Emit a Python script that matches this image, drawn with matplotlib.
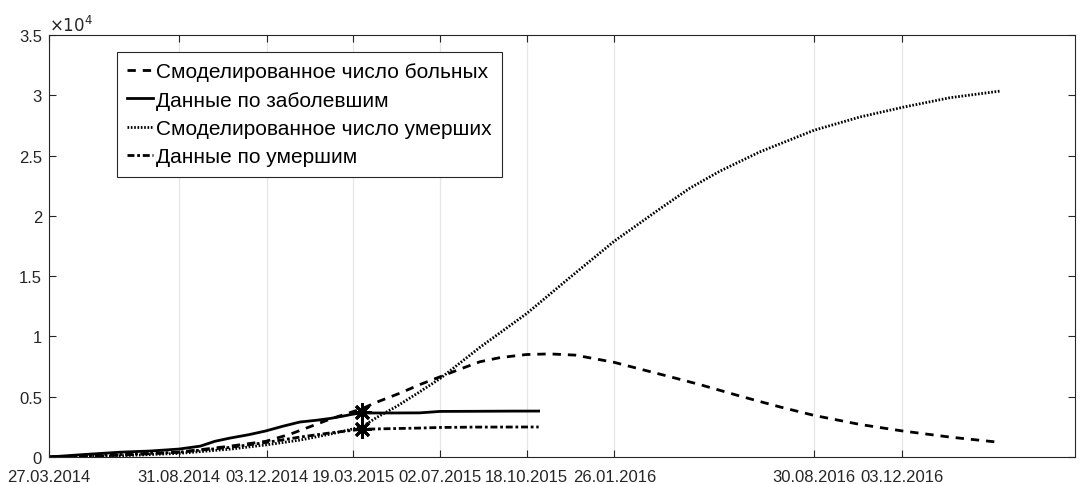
import matplotlib
matplotlib.use("Agg")
import matplotlib.pyplot as plt

plt.rcParams['font.family'] = ['Liberation Sans', 'DejaVu Sans']

# Time axis: days counted from 27.03.2014
tick_pos = [0, 153, 256, 358, 460, 562, 665, 900, 1004]
tick_labels = ["27.03.2014", "31.08.2014", "03.12.2014", "19.03.2015", "02.07.2015",
               "18.10.2015", "26.01.2016", "30.08.2016", "03.12.2016"]
x_max = 1207

# Reported cases
cases_t = [0, 40, 84, 120, 153, 178, 195, 213, 235, 255, 275, 295, 315, 331, 345, 358, 368,
           400, 436, 460, 500, 540, 576]
cases_v = [0, 200, 400, 500, 660, 900, 1300, 1570, 1850, 2160, 2550, 2900, 3050, 3200, 3380,
           3560, 3650, 3650, 3660, 3780, 3790, 3805, 3810]

# Reported deaths
deaths_t = [0, 84, 153, 213, 255, 295, 331, 368, 400, 436, 460, 500, 576]
deaths_v = [0, 200, 400, 800, 1200, 1650, 2000, 2300, 2350, 2400, 2450, 2480, 2490]

# Modelled number of infected
model_cases_t = [0, 84, 153, 213, 255, 284, 331, 368, 386, 413, 436, 460, 484, 507, 531,
                 562, 589, 619, 642, 665, 695, 731, 766, 813, 860, 900, 954, 1004, 1060, 1115]
model_cases_v = [0, 150, 400, 900, 1300, 1900, 3150, 4000, 4560, 5300, 6000, 6650, 7300,
                 7900, 8250, 8500, 8550, 8450, 8150, 7850, 7300, 6650, 6000, 5050, 4150,
                 3450, 2700, 2160, 1650, 1240]

# Modelled number of deaths
model_deaths_t = [0, 84, 153, 213, 255, 295, 331, 368, 386, 409, 436, 460, 507, 562, 613,
                  665, 719, 754, 789, 836, 900, 954, 1004, 1060, 1119]
model_deaths_v = [0, 100, 300, 650, 1000, 1400, 1900, 2500, 3300, 4200, 5400, 6500, 9100,
                  11900, 14900, 17900, 20600, 22300, 23700, 25300, 27100, 28200, 29000,
                  29800, 30350]

# Last reported point
mark_t = [368, 368]
mark_v = [3700, 2300]

fig = plt.figure(figsize=(10.85, 4.85), dpi=100)
ax = fig.add_axes([49 / 1085, 27 / 485, 1026 / 1085, 422 / 485])

lw = 2.0
ax.plot(model_cases_t, model_cases_v, color='black', lw=lw, linestyle=(0, (3, 2.5)),
        label='Смоделированное число больных')
ax.plot(cases_t, cases_v, color='black', lw=lw, linestyle='-',
        label='Данные по заболевшим')
ax.plot(model_deaths_t, model_deaths_v, color='black', lw=2.0, linestyle=(0, (0.6, 0.6)),
        label='Смоделированное число умерших')
ax.plot(deaths_t, deaths_v, color='black', lw=lw, linestyle=(0, (2.5, 1, 1, 1)),
        label='Данные по умершим')
ax.plot(mark_t, mark_v, linestyle='none', marker=(8, 2, 0), markersize=13, color='black',
        markeredgewidth=2)

ax.set_xlim(0, x_max)
ax.set_ylim(0, 35000)
ax.set_xticks(tick_pos)
ax.set_xticklabels(tick_labels)
ax.set_yticks([0, 5000, 10000, 15000, 20000, 25000, 30000, 35000])
ax.set_yticklabels(['0', '0.5', '1', '1.5', '2', '2.5', '3', '3.5'])
ax.tick_params(direction='in', length=5, width=0.8, colors='#262626', labelsize=12,
               top=True, right=True)
ax.tick_params(axis='x', pad=9)
ax.tick_params(axis='y', pad=5)
ax.xaxis.grid(True, color='#e6e6e6', lw=0.9)
ax.set_axisbelow(True)
for s in ax.spines.values():
    s.set_color('#262626')
    s.set_linewidth(0.8)

ax.text(0.0, 1.003, r'$\times 10^{4}$', transform=ax.transAxes, fontsize=12,
        color='#262626', ha='left', va='bottom')

leg = ax.legend(loc='upper left', bbox_to_anchor=(0.066, 0.96), borderaxespad=0,
                fontsize=15, handlelength=1.25, handletextpad=0.15, labelspacing=0.45,
                borderpad=0.5, fancybox=False, framealpha=1, edgecolor='#262626')
leg.get_frame().set_linewidth(0.8)

fig.savefig('out.png', dpi=100)
